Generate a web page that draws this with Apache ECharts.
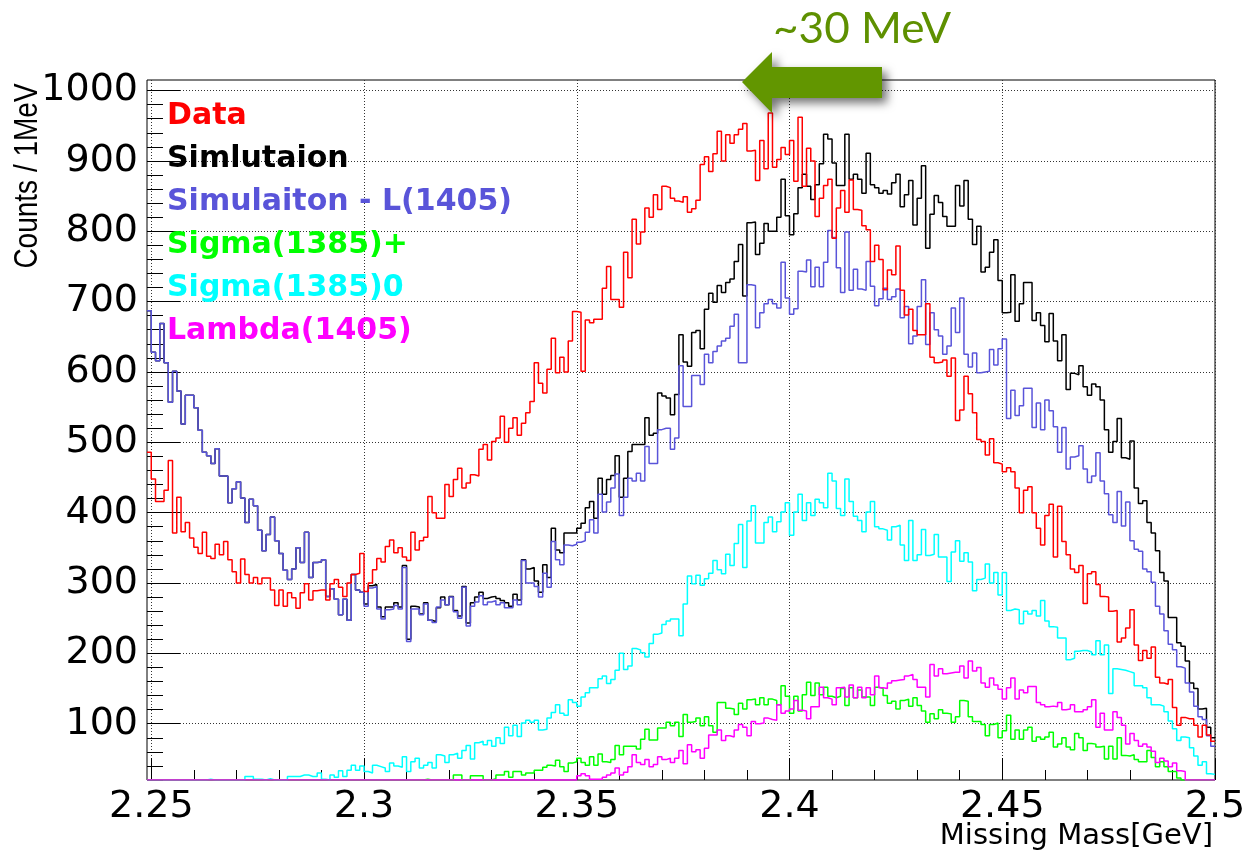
<!DOCTYPE html>
<html>
<head>
<meta charset="utf-8">
<script src="https://cdn.jsdelivr.net/npm/echarts@6.0.0/dist/echarts.min.js"></script>
<style>
html,body{margin:0;padding:0;background:#fff;}
#chart{width:1249px;height:853px;}
</style>
</head>
<body>
<div id="chart"></div>
<script>
// Histogram binning (1 MeV bins)
const binStart = 2.249;
const binWidth = 0.001;

// Tick labels
const xMajorTicks = [2.25, 2.3, 2.35, 2.4, 2.45, 2.5];
const yMajorTicks = [100, 200, 300, 400, 500, 600, 700, 800, 900, 1000];

// Series names
const seriesNames = ['Data', 'Simlutaion', 'Simulaiton - L(1405)', 'Sigma(1385)+', 'Sigma(1385)0', 'Lambda(1405)'];

// Data (red)
const dataCounts = [
486,448,416,416,432,474,371,422,373,386,
364,351,342,372,338,335,355,340,359,333,
316,300,334,312,300,308,299,307,307,290,
268,290,267,286,279,264,286,299,276,289,
290,290,276,299,305,294,281,300,312,314,
342,288,300,319,335,330,352,361,343,350,
337,332,372,347,360,365,423,400,392,392,
440,423,447,463,435,442,454,452,490,497,
475,501,506,537,500,520,535,510,527,542,
558,613,584,570,604,648,599,621,600,644,
686,685,601,674,670,675,675,719,750,703,
703,692,770,734,817,782,799,833,820,852,
831,864,862,847,843,841,849,827,832,844,
895,906,885,910,942,900,937,925,937,945,
953,914,915,872,929,889,968,891,902,919,
909,929,871,962,864,918,900,821,847,865,
874,790,833,858,827,873,831,830,808,802,
757,780,760,717,745,738,779,716,681,689,
659,653,653,697,621,613,614,617,594,620,
531,546,594,569,542,504,501,482,505,471,
469,458,464,458,435,400,432,437,400,378,
354,396,412,337,409,359,340,320,315,325,
271,313,316,298,281,280,260,261,216,222,
236,262,212,190,204,193,209,166,158,156,
163,123,98,109,107,107,98,81,98,84,
75];

// Simulation (black)
const simTotal = [
687,628,616,669,613,557,601,573,526,567,
567,549,517,486,481,470,491,452,452,414,
434,444,421,386,419,410,375,346,369,394,
360,342,318,305,320,350,329,372,308,329,
330,333,281,292,277,255,277,247,312,290,
287,270,296,298,266,252,266,266,272,266,
325,220,267,266,256,272,247,245,265,280,
269,281,261,253,295,243,272,280,287,278,
280,281,278,275,272,267,284,276,333,320,
322,303,287,326,308,378,347,343,371,371,
371,378,385,407,416,392,449,426,447,453,
481,422,449,487,497,497,497,535,510,513,
570,566,563,539,568,653,614,608,656,659,
633,689,712,699,723,713,727,732,757,781,
708,812,813,767,783,811,800,800,820,874,
822,795,825,862,881,864,845,866,896,938,
931,897,865,865,938,874,881,874,854,911,
866,862,854,858,853,869,881,835,852,872,
809,847,893,776,824,851,841,821,807,807,
865,836,872,817,781,807,742,749,770,788,
730,684,685,738,672,697,727,727,673,684,
666,643,683,644,616,653,575,598,596,609,
579,567,583,579,560,518,486,501,534,478,
476,502,435,413,417,386,371,346,315,303,
251,251,215,210,189,158,150,121,122,95,
80];

// Simulation - L(1405) (blue)
const simNoLambda = [
687,628,616,669,613,557,601,573,526,567,
567,549,517,486,481,470,491,452,452,414,
434,444,421,386,419,410,375,346,369,394,
360,342,318,305,320,350,329,372,308,329,
330,333,281,292,277,255,277,247,312,290,
287,267,293,295,263,249,262,263,268,263,
322,217,263,263,255,270,247,244,266,276,
269,280,259,250,294,239,267,273,282,269,
273,275,269,272,265,265,276,269,332,300,
300,295,280,314,294,359,333,326,354,353,
355,358,360,372,390,371,426,401,415,435,
455,396,422,449,445,456,445,494,470,470,
518,520,520,490,506,609,551,551,595,595,
582,625,613,629,637,644,648,665,682,613,
613,724,723,663,684,697,703,697,691,756,
705,682,690,743,742,759,721,749,721,756,
801,791,748,713,799,716,746,718,716,757,
722,694,704,719,703,707,718,677,693,640,
651,693,731,639,684,660,651,625,637,691,
656,705,625,607,627,599,600,601,632,610,
633,647,534,574,538,552,577,577,521,556,
518,560,545,522,486,521,462,479,481,495,
462,443,452,485,445,427,397,386,430,381,
415,360,348,345,320,316,301,267,256,232,
213,205,181,179,158,145,125,110,106,83,
68];

// Sigma(1385)+ (green)
const sigmaPlus = [
20,20,20,20,20,20,20,20,20,20,
20,20,20,20,20,20,20,20,20,20,
20,20,20,20,20,20,20,20,20,20,
20,20,20,20,20,20,20,20,20,20,
20,20,20,20,20,20,20,20,20,20,
20,20,20,20,20,20,20,20,20,20,
20,20,20,20,20,21,20,20,20,20,
20,20,27,27,20,20,26,26,26,20,
20,22,27,27,32,24,32,32,27,30,
30,34,34,38,41,40,48,39,32,44,
46,51,45,41,53,41,57,46,45,49,
69,56,68,68,68,64,78,92,77,77,
94,94,102,97,102,82,113,102,103,108,
97,110,97,88,130,130,122,121,113,129,
121,134,135,127,137,127,135,133,127,154,
139,115,139,118,141,159,140,158,141,152,
139,137,139,150,126,151,137,148,138,138,
126,152,150,140,129,132,121,133,135,125,
137,126,118,102,114,107,120,115,114,102,
110,133,132,110,103,103,99,83,99,101,
80,90,112,78,91,78,91,95,75,81,
78,81,88,67,71,80,67,63,86,80,
62,72,71,67,68,50,68,50,80,55,
54,56,49,46,46,62,52,39,46,39,
32,32,23,20,20,20,20,20,20,20,
20];

// Sigma(1385)0 (cyan)
const sigmaZero = [
20,20,20,20,20,20,20,20,20,20,
20,20,20,20,21,20,20,20,20,20,
20,20,20,25,25,21,21,20,22,20,
20,20,20,25,25,25,27,27,25,25,
30,21,20,27,24,33,25,34,41,34,
40,32,30,41,39,37,32,44,40,38,
53,32,46,51,37,41,45,37,56,54,
45,56,58,51,62,69,50,73,75,70,
76,68,80,72,95,83,98,82,101,105,
102,105,91,92,108,116,127,115,112,134,
130,125,138,144,151,151,164,168,157,163,
176,200,177,182,207,205,201,195,214,227,
229,241,246,249,249,225,270,310,299,311,
297,306,314,332,319,313,341,325,356,383,
322,388,410,357,357,386,394,373,387,401,
414,368,401,426,389,414,396,419,414,407,
456,445,406,396,448,416,395,389,373,401,
416,380,377,375,361,380,382,354,332,389,
332,340,376,339,341,369,337,337,302,344,
360,331,343,330,289,305,307,327,300,315,
283,315,261,263,262,242,260,256,261,253,
275,246,238,237,222,222,191,193,203,204,
204,202,198,218,198,212,143,178,177,176,
174,172,154,154,151,137,127,127,125,117,
104,93,76,81,80,66,54,41,46,29,
28];

// Lambda(1405) (magenta)
const lambda1405 = [
20,20,20,20,20,20,20,20,20,20,
20,20,20,20,20,20,20,20,20,20,
20,20,20,20,20,20,20,20,20,20,
20,20,20,20,20,20,20,20,20,20,
20,20,20,20,20,20,20,20,20,20,
20,20,20,20,20,20,20,20,20,20,
20,20,20,20,20,20,20,20,20,20,
20,20,20,20,20,20,20,20,20,20,
20,20,20,20,20,20,20,20,20,20,
20,20,20,20,20,20,20,20,20,20,
20,26,29,26,21,21,21,24,27,30,
37,27,31,39,56,45,42,49,39,42,
53,49,51,45,51,62,43,70,60,63,
51,65,84,84,91,76,83,81,91,99,
95,83,103,100,101,108,106,105,127,115,
118,121,133,119,118,107,124,124,152,137,
135,127,151,152,138,155,137,152,137,151,
141,168,151,150,158,161,162,163,168,170,
163,152,152,138,184,168,178,171,172,173,
173,182,165,189,175,180,158,152,165,155,
149,135,151,165,135,148,144,153,153,130,
127,124,125,124,130,120,121,127,117,117,
120,124,134,95,115,91,91,117,109,98,
71,86,76,68,71,67,61,45,51,47,
39,44,33,32,20,20,20,20,20,20,
20];

// minor tick positions
const xMinorTicks = [];
for (let k = 0; k <= 25; k++) xMinorTicks.push(+(2.25 + k * 0.01).toFixed(2));
const yMinorTicks = [];
for (let v = 20; v <= 1000; v += 20) yMinorTicks.push(v);

function toSteps(vals) {
  const pts = vals.map((v, i) => [+(binStart + i * binWidth).toFixed(4), v]);
  pts.push([+(binStart + vals.length * binWidth).toFixed(4), vals[vals.length - 1]]);
  return pts;
}

const colors = {
  'Data': '#ff0000',
  'Simlutaion': '#000000',
  'Simulaiton - L(1405)': '#5954d9',
  'Sigma(1385)+': '#00ff00',
  'Sigma(1385)0': '#00ffff',
  'Lambda(1405)': '#ff00ff'
};

const seriesValues = {
  'Data': dataCounts,
  'Simlutaion': simTotal,
  'Simulaiton - L(1405)': simNoLambda,
  'Sigma(1385)+': sigmaPlus,
  'Sigma(1385)0': sigmaZero,
  'Lambda(1405)': lambda1405
};

const drawOrder = ['Simlutaion', 'Simulaiton - L(1405)', 'Data', 'Sigma(1385)0', 'Sigma(1385)+', 'Lambda(1405)'];

const series = drawOrder.map(name => ({
  type: 'line',
  name: name,
  xAxisIndex: 0,
  yAxisIndex: 0,
  step: 'end',
  data: toSteps(seriesValues[name]),
  showSymbol: false,
  symbol: 'none',
  silent: true,
  lineStyle: { color: colors[name], width: 1.5 },
  itemStyle: { color: colors[name] }
}));

const dotted = { type: [1, 2], color: '#333', width: 1 };

const option = {
  animation: false,
  backgroundColor: '#fff',
  grid: {
    left: 147, right: 34, top: 80, bottom: 73,
    show: true, borderColor: '#000', borderWidth: 1, backgroundColor: '#fff',
    outerBoundsMode: 'none', containLabel: false
  },
  xAxis: [
    {
      type: 'value', min: binStart, max: 2.5, position: 'bottom',
      axisLine: { show: false },
      axisTick: { show: true, inside: true, length: 22, customValues: xMajorTicks, lineStyle: { color: '#000', width: 1 } },
      axisLabel: { customValues: xMajorTicks, formatter: v => String(v), fontFamily: 'DejaVu Sans', fontSize: 38, color: '#000', margin: 8 },
      splitLine: { show: true, lineStyle: dotted }
    },
    {
      type: 'value', min: binStart, max: 2.5, position: 'bottom',
      axisLine: { show: false },
      axisTick: { show: true, inside: true, length: 10, customValues: xMinorTicks, lineStyle: { color: '#000', width: 1 } },
      axisLabel: { show: false },
      splitLine: { show: false }
    }
  ],
  yAxis: [
    {
      type: 'value', min: 20, max: 1015, position: 'left',
      axisLine: { show: false },
      axisTick: { show: true, inside: true, length: 33, customValues: yMajorTicks, lineStyle: { color: '#000', width: 1 } },
      axisLabel: { customValues: yMajorTicks, formatter: v => String(v), fontFamily: 'DejaVu Sans', fontSize: 38, color: '#000', margin: 9 },
      splitLine: { show: true, lineStyle: dotted }
    },
    {
      type: 'value', min: 20, max: 1015, position: 'left',
      axisLine: { show: false },
      axisTick: { show: true, inside: true, length: 16, customValues: yMinorTicks, lineStyle: { color: '#000', width: 1 } },
      axisLabel: { show: false },
      splitLine: { show: false }
    }
  ],
  legend: {
    orient: 'vertical', left: 157, top: 96, itemGap: 13,
    icon: 'none', itemWidth: 0, itemHeight: 30, selectedMode: false,
    textStyle: { fontFamily: 'DejaVu Sans', fontWeight: 'bold', fontSize: 30 },
    data: seriesNames.map(n => ({ name: n, icon: 'none', textStyle: { color: colors[n] } }))
  },
  graphic: [
    {
      type: 'polygon', z: 100,
      shape: { points: [[742, 82], [772, 52], [772, 67], [882, 67], [882, 98], [772, 98], [772, 113]] },
      style: { fill: '#629600', shadowBlur: 10, shadowOffsetX: 5, shadowOffsetY: 5, shadowColor: 'rgba(0,0,0,0.55)' }
    },
    {
      type: 'text', z: 100, x: 773, y: 29, scaleX: 1.05,
      style: { text: '~30 MeV', fill: '#5e9000', fontSize: 42, fontFamily: 'Lato', align: 'left', verticalAlign: 'middle' }
    },
    {
      type: 'text', z: 100, x: 28, y: 176, rotation: Math.PI / 2, scaleY: 1.18,
      style: { text: 'Counts / 1MeV', fill: '#000', fontSize: 28, fontFamily: 'Liberation Sans', align: 'center', verticalAlign: 'middle' }
    },
    {
      type: 'text', z: 100, x: 1213, y: 836,
      style: { text: 'Missing Mass[GeV]', fill: '#000', fontSize: 29, fontFamily: 'DejaVu Sans', align: 'right', verticalAlign: 'middle' }
    }
  ],
  series: series
};

const chart = echarts.init(document.getElementById('chart'), null, { renderer: 'canvas' });
chart.setOption(option);
</script>
</body>
</html>
